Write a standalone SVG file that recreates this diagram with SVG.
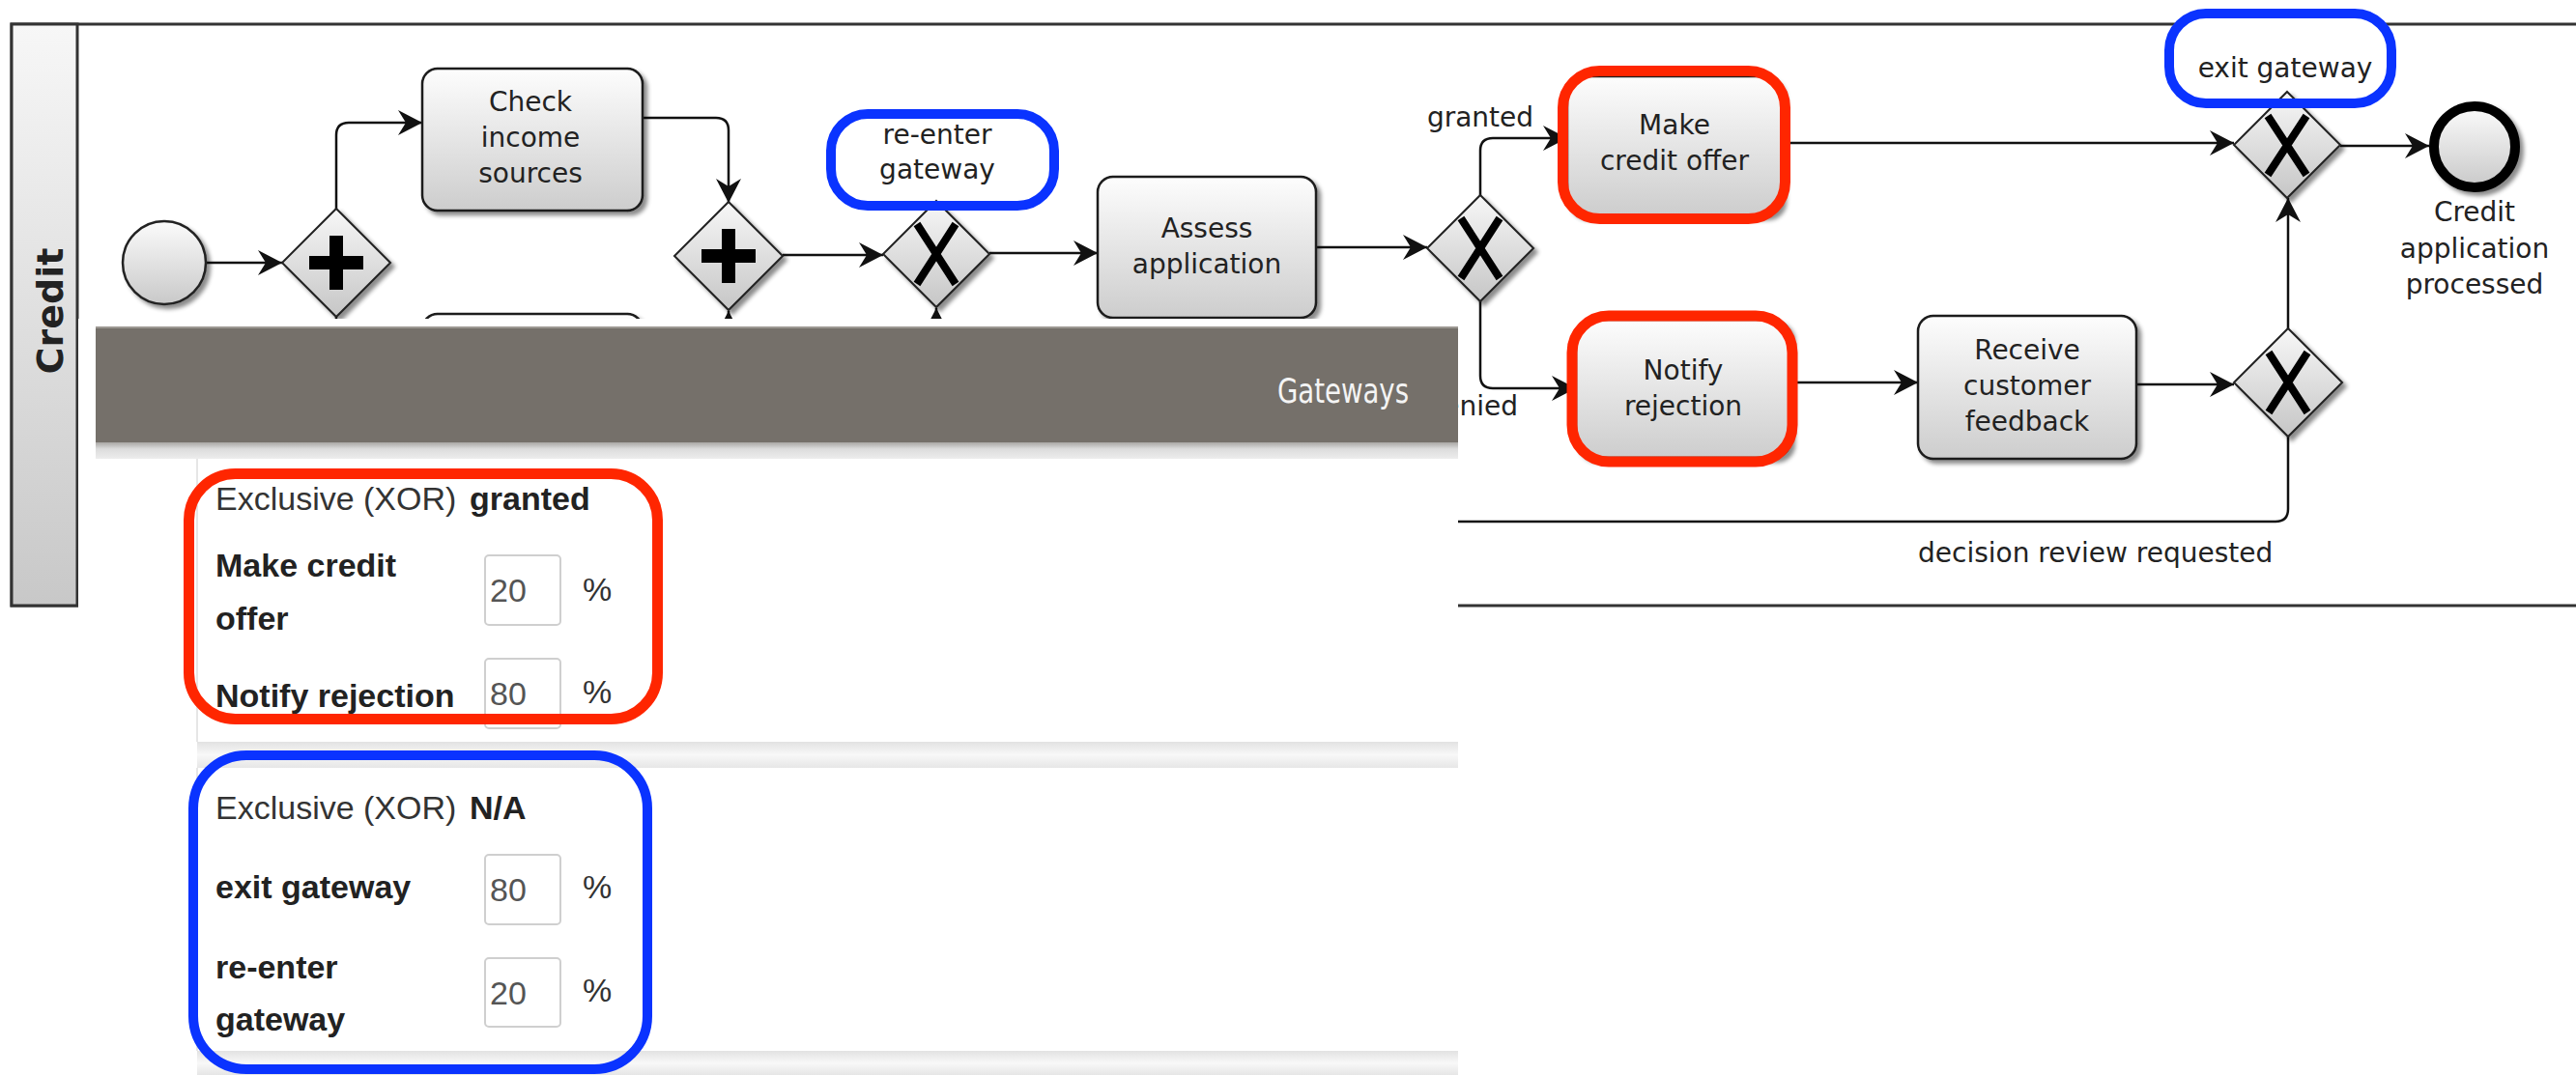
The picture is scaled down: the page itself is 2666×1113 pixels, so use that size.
<svg xmlns="http://www.w3.org/2000/svg" width="2666" height="1113" viewBox="0 0 2666 1113">
<defs>
<style>
.conn{fill:none;stroke:#111;stroke-width:2.5;marker-end:url(#arr)}
.task{fill:url(#taskGrad);stroke:#1a1a1a;stroke-width:2.5;filter:url(#sh)}
.gw{fill:url(#gwGrad);stroke:#222;stroke-width:2;filter:url(#sh)}
.xm{stroke:#000;stroke-width:8;stroke-linecap:butt;fill:none}
.lbl{font-family:"DejaVu Sans",Verdana,sans-serif;font-size:28px;fill:#222;text-anchor:middle}
.elbl{font-family:"DejaVu Sans",Verdana,sans-serif;font-size:28px;fill:#222}
.red{fill:none;stroke:#ff2600;stroke-width:11}
.blue{fill:none;stroke:#0a33ff;stroke-width:10}
.pt{font-family:"Liberation Sans",Arial,Helvetica,sans-serif;font-size:34px;fill:#333}
.pb{font-family:"Liberation Sans",Arial,Helvetica,sans-serif;font-size:34px;fill:#222;font-weight:bold}
.pv{font-family:"Liberation Sans",Arial,Helvetica,sans-serif;font-size:34px;fill:#555}
.inp{fill:#fff;stroke:#cfcfcf;stroke-width:2}
</style>
<linearGradient id="taskGrad" x1="0" y1="0" x2="0" y2="1"><stop offset="0" stop-color="#fdfdfd"/><stop offset="1" stop-color="#cdcdcd"/></linearGradient>
<linearGradient id="gwGrad" x1="0" y1="0" x2="0" y2="1"><stop offset="0" stop-color="#f7f7f7"/><stop offset="1" stop-color="#c6c6c6"/></linearGradient>
<linearGradient id="evGrad" x1="0" y1="0" x2="0" y2="1"><stop offset="0" stop-color="#fbfbfb"/><stop offset="1" stop-color="#c9c9c9"/></linearGradient>
<linearGradient id="laneGrad" x1="0" y1="0" x2="0" y2="1"><stop offset="0" stop-color="#f7f7f7"/><stop offset="1" stop-color="#c8c8c8"/></linearGradient>
<linearGradient id="hdrSh" x1="0" y1="0" x2="0" y2="1"><stop offset="0" stop-color="#a9a7a4"/><stop offset="0.4" stop-color="#dcdcdc"/><stop offset="1" stop-color="#ededed"/></linearGradient>
<linearGradient id="sepGrad" x1="0" y1="0" x2="0" y2="1"><stop offset="0" stop-color="#e2e2e2"/><stop offset="0.5" stop-color="#f8f8f8"/><stop offset="1" stop-color="#e6e6e6"/></linearGradient>
<filter id="sh" x="-20%" y="-20%" width="150%" height="150%"><feDropShadow dx="4" dy="4" stdDeviation="2" flood-color="#000" flood-opacity="0.45"/></filter>
<clipPath id="deniedClip"><rect x="1509" y="380" width="200" height="70"/></clipPath>
<marker id="arr" markerUnits="userSpaceOnUse" viewBox="-26 -15 28 30" refX="0" refY="0" markerWidth="28" markerHeight="30" orient="auto">
<path d="M0,0 L-25,-13 L-17,0 L-25,13 Z" fill="#111"/>
</marker>
</defs>
<rect width="2666" height="1113" fill="#fff"/>

<g id="pool">
<rect x="12" y="25" width="2700" height="602" fill="#fff" stroke="#333" stroke-width="3"/>
<rect x="12" y="25" width="68" height="602" fill="url(#laneGrad)" stroke="#333" stroke-width="3"/>
<text transform="translate(65,322) rotate(-90)" text-anchor="middle" font-family="DejaVu Sans,Verdana,sans-serif" font-size="38" font-weight="bold" fill="#222">Credit</text>
</g>

<g id="label-backgrounds">
<rect x="860" y="118" width="231" height="95" rx="38" fill="#fff"/>
<rect x="2245" y="14" width="230" height="93" rx="38" fill="#fff"/>
</g>

<g id="connectors">
<path class="conn" d="M213,272 H292"/>
<path class="conn" d="M348,216 V140 Q348,127 361,127 H437"/>
<path class="conn" d="M665,122 H741 Q754,122 754,135 V210"/>
<path class="conn" d="M348,328 V385 Q348,398 361,398 H437"/>
<path class="conn" d="M665,398 H741 Q754,398 754,385 V322"/>
<path class="conn" d="M810,264 H914"/>
<path class="conn" d="M1024,262 H1136"/>
<path class="conn" d="M1362,256 H1477"/>
<path class="conn" d="M1532,202 V156 Q1532,143 1545,143 H1622"/>
<path class="conn" d="M1532,312 V389 Q1532,402 1545,402 H1631"/>
<path class="conn" d="M1844,148 H2312"/>
<path class="conn" d="M2422,151 H2514"/>
<path class="conn" d="M1853,396 H1985"/>
<path class="conn" d="M2211,398 H2312"/>
<path class="conn" d="M2368,340 V205"/>
<path class="conn" d="M2368,452 V527 Q2368,540 2355,540 H982 Q969,540 969,527 V319"/>
</g>

<g id="start-event"><circle cx="170" cy="272" r="43" fill="url(#evGrad)" stroke="#222" stroke-width="2.5" filter="url(#sh)"/></g>

<g id="gw-split"><polygon class="gw" points="348,216 404,272 348,328 292,272"/><path d="M348,244 V300 M320,272 H376" stroke="#000" stroke-width="14"/></g>

<g id="task-check"><rect class="task" x="437" y="71" width="228" height="147" rx="16"/>
<text class="lbl" x="549" y="115">Check</text><text class="lbl" x="549" y="152">income</text><text class="lbl" x="549" y="189">sources</text></g>

<g id="task-lower"><rect class="task" x="437" y="325" width="228" height="147" rx="16"/></g>

<g id="gw-join"><polygon class="gw" points="754,209 810,265 754,321 698,265"/><path d="M754,237 V293 M726,265 H782" stroke="#000" stroke-width="14"/></g>

<g id="gw-reenter"><polygon class="gw" points="969,208 1024,263 969,318 914,263"/><path class="xm" d="M949,232 L989,294 M989,232 L949,294"/></g>

<g id="task-assess"><rect class="task" x="1136" y="183" width="226" height="146" rx="16"/>
<text class="lbl" x="1249" y="246">Assess</text><text class="lbl" x="1249" y="283">application</text></g>

<g id="gw-decision"><polygon class="gw" points="1532,202 1587,257 1532,312 1477,257"/><path class="xm" d="M1512,226 L1552,288 M1552,226 L1512,288"/></g>

<g id="task-offer"><rect class="task" x="1622" y="79" width="222" height="144" rx="18"/>
<text class="lbl" x="1733" y="139">Make</text><text class="lbl" x="1733" y="176">credit offer</text></g>

<g id="task-notify"><rect class="task" x="1631" y="331" width="222" height="143" rx="18"/>
<text class="lbl" x="1742" y="393">Notify</text><text class="lbl" x="1742" y="430">rejection</text></g>

<g id="task-receive"><rect class="task" x="1985" y="327" width="226" height="148" rx="16"/>
<text class="lbl" x="2098" y="372">Receive</text><text class="lbl" x="2098" y="409">customer</text><text class="lbl" x="2098" y="446">feedback</text></g>

<g id="gw-review"><polygon class="gw" points="2368,340 2424,396 2368,452 2312,396"/><path class="xm" d="M2348,365 L2388,427 M2388,365 L2348,427"/></g>

<g id="gw-exit"><polygon class="gw" points="2367,95 2422,150 2367,205 2312,150"/><path class="xm" d="M2347,120 L2387,181 M2387,120 L2347,181"/></g>

<g id="end-event"><circle cx="2561" cy="152" r="42" fill="url(#evGrad)" stroke="#000" stroke-width="10" filter="url(#sh)"/>
<text class="lbl" x="2561" y="229">Credit</text><text class="lbl" x="2561" y="267">application</text><text class="lbl" x="2561" y="304">processed</text></g>

<g id="edge-labels">
<text class="lbl" x="1532" y="131">granted</text>
<text class="elbl" x="1571" y="430" text-anchor="end" clip-path="url(#deniedClip)">denied</text>
<text class="elbl" x="1985" y="582">decision review requested</text>
<text class="lbl" x="970" y="149">re-enter</text>
<text class="lbl" x="970" y="185">gateway</text>
<text class="lbl" x="2365" y="80">exit gateway</text>
</g>

<g id="highlights">
<rect class="blue" x="860" y="118" width="231" height="95" rx="38"/>
<rect class="blue" x="2245" y="14" width="230" height="93" rx="38"/>
<rect class="red" x="1617.5" y="73.5" width="230" height="153" rx="38"/>
<rect class="red" x="1627" y="327" width="228" height="151" rx="38"/>
</g>

<g id="panel">
<rect x="81" y="330" width="1428" height="783" fill="#fff"/>
<rect x="99" y="338" width="1410" height="120" fill="#75706a"/>
<rect x="99" y="338" width="1410" height="2" fill="#9c9892"/>
<rect x="99" y="458" width="1410" height="17" fill="url(#hdrSh)"/>
<text x="1458" y="417" text-anchor="end" font-family="DejaVu Sans Condensed,DejaVu Sans,sans-serif" font-stretch="condensed" font-size="36" fill="#f4f4f4" textLength="136" lengthAdjust="spacingAndGlyphs">Gateways</text>

<rect x="204" y="475" width="1305" height="293" fill="#fff"/>
<rect x="203" y="475" width="2" height="293" fill="#e6e6e6"/>
<rect x="204" y="768" width="1305" height="27" fill="url(#sepGrad)"/>
<rect x="204" y="795" width="1305" height="293" fill="#fff"/>
<rect x="203" y="795" width="2" height="293" fill="#e6e6e6"/>
<rect x="204" y="1088" width="1305" height="25" fill="url(#sepGrad)"/>

<text class="pt" x="223" y="528">Exclusive (XOR) <tspan class="pb" x="486">granted</tspan></text>
<text class="pb" x="223" y="597">Make credit</text>
<text class="pb" x="223" y="652">offer</text>
<rect class="inp" x="502" y="575" width="78" height="72" rx="4"/>
<text class="pv" x="507" y="623">20</text>
<text class="pt" x="603" y="622">%</text>
<text class="pb" x="223" y="732">Notify rejection</text>
<rect class="inp" x="502" y="682" width="78" height="72" rx="4"/>
<text class="pv" x="507" y="730">80</text>
<text class="pt" x="603" y="728">%</text>

<text class="pt" x="223" y="848">Exclusive (XOR) <tspan class="pb" x="486">N/A</tspan></text>
<text class="pb" x="223" y="930">exit gateway</text>
<rect class="inp" x="502" y="885" width="78" height="72" rx="4"/>
<text class="pv" x="507" y="933">80</text>
<text class="pt" x="603" y="930">%</text>
<text class="pb" x="223" y="1013">re-enter</text>
<text class="pb" x="223" y="1067">gateway</text>
<rect class="inp" x="502" y="992" width="78" height="71" rx="4"/>
<text class="pv" x="507" y="1040">20</text>
<text class="pt" x="603" y="1037">%</text>

<rect class="red" x="195.5" y="490.5" width="485" height="254" rx="48"/>
<rect class="blue" x="200" y="782" width="470" height="325" rx="55"/>
</g>
</svg>
